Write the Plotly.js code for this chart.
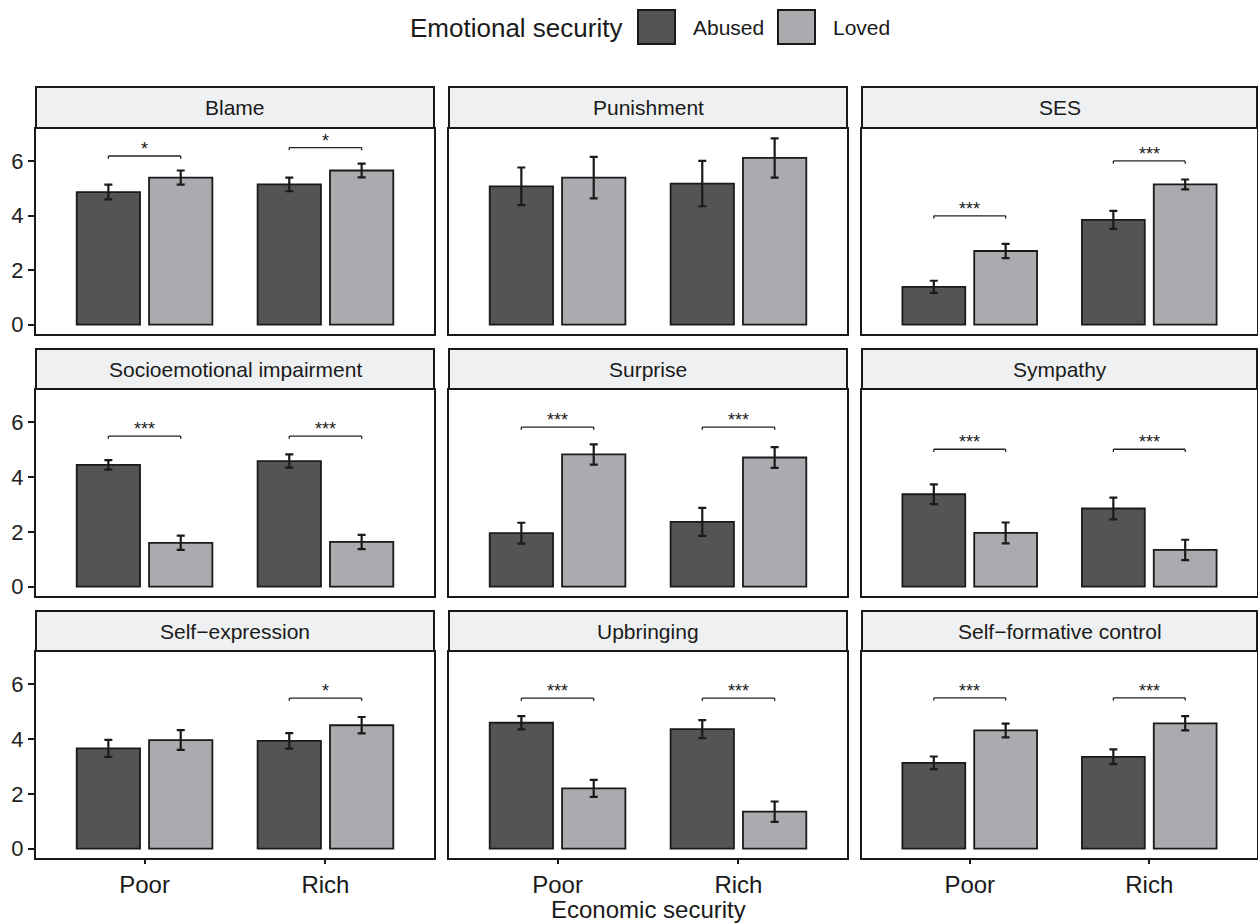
<!DOCTYPE html>
<html>
<head>
<meta charset="utf-8">
<script src="https://cdn.plot.ly/plotly-3.0.1.min.js"></script>
<style>html,body{margin:0;padding:0;background:#fff;}#chart{width:1258px;height:924px;}</style>
</head>
<body>
<div id="chart"></div>
<script>
// ---- data ----
const measures = ['Blame','Punishment','SES','Socioemotional impairment','Surprise','Sympathy','Self\u2212expression','Upbringing','Self\u2212formative control'];
const econLevels = ['Poor','Rich'];
const emoLevels = ['Abused','Loved'];
const abusedPoor = [4.86,5.07,1.39,4.44,1.95,3.37,3.66,4.59,3.13];
const abusedRich = [5.14,5.17,3.84,4.58,2.36,2.85,3.93,4.36,3.35];
const lovedPoor  = [5.39,5.39,2.70,1.60,4.82,1.96,3.96,2.20,4.31];
const lovedRich  = [5.65,6.11,5.14,1.63,4.71,1.34,4.50,1.35,4.57];
const abusedPoorSE = [0.27,0.69,0.22,0.17,0.38,0.36,0.31,0.24,0.23];
const abusedRichSE = [0.25,0.83,0.33,0.24,0.51,0.40,0.28,0.33,0.27];
const lovedPoorSE  = [0.26,0.76,0.26,0.26,0.37,0.38,0.36,0.31,0.25];
const lovedRichSE  = [0.25,0.72,0.18,0.26,0.38,0.37,0.30,0.37,0.26];
const sigPoor = ['*','','***','***','***','***','','***','***'];
const sigRich = ['*','','***','***','***','***','*','***','***'];
const bracketPoor = [6.18,null,3.99,5.49,5.82,5.01,null,5.49,5.50];
const bracketRich = [6.49,null,6.00,5.49,5.82,5.01,5.49,5.49,5.50];
const yTicks = [0,2,4,6];

// ---- style / layout ----
const W = 1258, H = 924;
const FONT = 'Liberation Sans, Arial, sans-serif';
const INK = '#1a1a1a';
const fills = {Abused:'#545456', Loved:'#aaabae'};
const cols = [[36,434],[449,847],[862,1257]];
const rows = [[129,334],[390,596],[652,858]];
const strips = [[87,128],[349,389],[611,651]];
const yRange = [-0.34, 7.17];
const BARGAP = 0.2, BARGROUPGAP = 0.125;
const half = (1 - BARGAP) / 4;   // offset of each dodged bar centre from category centre
const tickDrop = 0.1;

const px = p => p / W;
const py = p => 1 - p / H;

const traces = [];
const shapes = [];
const annotations = [];
const layout = {
  width: W, height: H,
  margin: {l:0, r:0, t:0, b:0},
  paper_bgcolor: '#fff', plot_bgcolor: '#fff',
  barmode: 'group', bargap: BARGAP, bargroupgap: BARGROUPGAP,
  showlegend: false,
  font: {family: FONT, color: INK}
};

measures.forEach((m, i) => {
  const r = Math.floor(i / 3), c = i % 3;
  const n = i + 1;
  const xa = 'x' + (n === 1 ? '' : n), ya = 'y' + (n === 1 ? '' : n);
  const xk = 'xaxis' + (n === 1 ? '' : n), yk = 'yaxis' + (n === 1 ? '' : n);
  const series = {
    Abused: {y: [abusedPoor[i], abusedRich[i]], e: [abusedPoorSE[i], abusedRichSE[i]]},
    Loved:  {y: [lovedPoor[i],  lovedRich[i]],  e: [lovedPoorSE[i],  lovedRichSE[i]]}
  };
  emoLevels.forEach(g => {
    traces.push({
      type: 'bar', name: g, x: econLevels, y: series[g].y,
      xaxis: xa, yaxis: ya,
      marker: {color: fills[g], line: {color: INK, width: 1.8}},
      error_y: {type: 'data', array: series[g].e, visible: true, color: INK, thickness: 2.2, width: 4},
      showlegend: false, hoverinfo: 'x+y'
    });
  });
  layout[xk] = {
    domain: [px(cols[c][0]), px(cols[c][1])], anchor: ya,
    type: 'category', categoryorder: 'array', categoryarray: econLevels,
    range: [-0.6, 1.6], showgrid: false, zeroline: false,
    showline: true, mirror: true, linecolor: INK, linewidth: 2,
    ticks: r === 2 ? 'outside' : '', ticklen: 4, tickwidth: 2, tickcolor: INK,
    showticklabels: r === 2, tickfont: {size: 24, color: INK, family: FONT}, fixedrange: true
  };
  layout[yk] = {
    domain: [py(rows[r][1]), py(rows[r][0])], anchor: xa,
    range: yRange, tickvals: yTicks, showgrid: false, zeroline: false,
    showline: true, mirror: true, linecolor: INK, linewidth: 2,
    ticks: c === 0 ? 'outside' : '', ticklen: 6, tickwidth: 2, tickcolor: INK,
    showticklabels: c === 0, tickfont: {size: 22, color: '#222', family: FONT}, fixedrange: true
  };
  // strip
  shapes.push({type:'rect', xref:'paper', yref:'paper',
    x0: px(cols[c][0]), x1: px(cols[c][1]), y0: py(strips[r][1]), y1: py(strips[r][0]),
    fillcolor:'#eff0f1', line:{color: INK, width: 2}, layer:'below'});
  annotations.push({xref:'paper', yref:'paper', x: px((cols[c][0]+cols[c][1])/2), y: py((strips[r][0]+strips[r][1])/2),
    text: m, showarrow:false, xanchor:'center', yanchor:'middle', font:{size: 21, color: INK, family: FONT}});
  // significance brackets
  [[bracketPoor[i], sigPoor[i]], [bracketRich[i], sigRich[i]]].forEach(([b, s], k) => {
    if (b === null || !s) return;
    const x0 = k - half, x1 = k + half;
    const ln = {color:'#222', width: 1.3};
    shapes.push({type:'line', xref: xa, yref: ya, x0: x0, x1: x1, y0: b, y1: b, line: ln});
    shapes.push({type:'line', xref: xa, yref: ya, x0: x0, x1: x0, y0: b, y1: b - tickDrop, line: ln});
    shapes.push({type:'line', xref: xa, yref: ya, x0: x1, x1: x1, y0: b, y1: b - tickDrop, line: ln});
    annotations.push({xref: xa, yref: ya, x: k, y: b, text: s, showarrow: false,
      xanchor:'center', yanchor:'bottom', yshift: -5, font:{size: 18, color: INK, family: FONT}});
  });
});

// x-axis title
annotations.push({xref:'paper', yref:'paper', x: px((cols[1][0]+cols[1][1])/2), y: 0,
  text:'Economic security', showarrow:false, xanchor:'center', yanchor:'bottom', borderpad: 0,
  font:{size: 24, color: INK, family: FONT}});

// legend (drawn by hand to match the ggplot key size)
annotations.push({xref:'paper', yref:'paper', x: px(624), y: py(28), text:'Emotional security',
  showarrow:false, xanchor:'right', yanchor:'middle', font:{size: 26, color: INK, family: FONT}});
const keyX = {Abused: 638, Loved: 778};
emoLevels.forEach(g => {
  shapes.push({type:'rect', xref:'paper', yref:'paper', x0: px(keyX[g]), x1: px(keyX[g]+37), y0: py(44), y1: py(10),
    fillcolor: fills[g], line:{color: INK, width: 2}});
  annotations.push({xref:'paper', yref:'paper', x: px(keyX[g]+53), y: py(28), text: g, showarrow:false,
    xanchor:'left', yanchor:'middle', font:{size: 21, color: INK, family: FONT}});
});

layout.shapes = shapes;
layout.annotations = annotations;
Plotly.newPlot('chart', traces, layout, {displayModeBar: false, staticPlot: true});
</script>
</body>
</html>
